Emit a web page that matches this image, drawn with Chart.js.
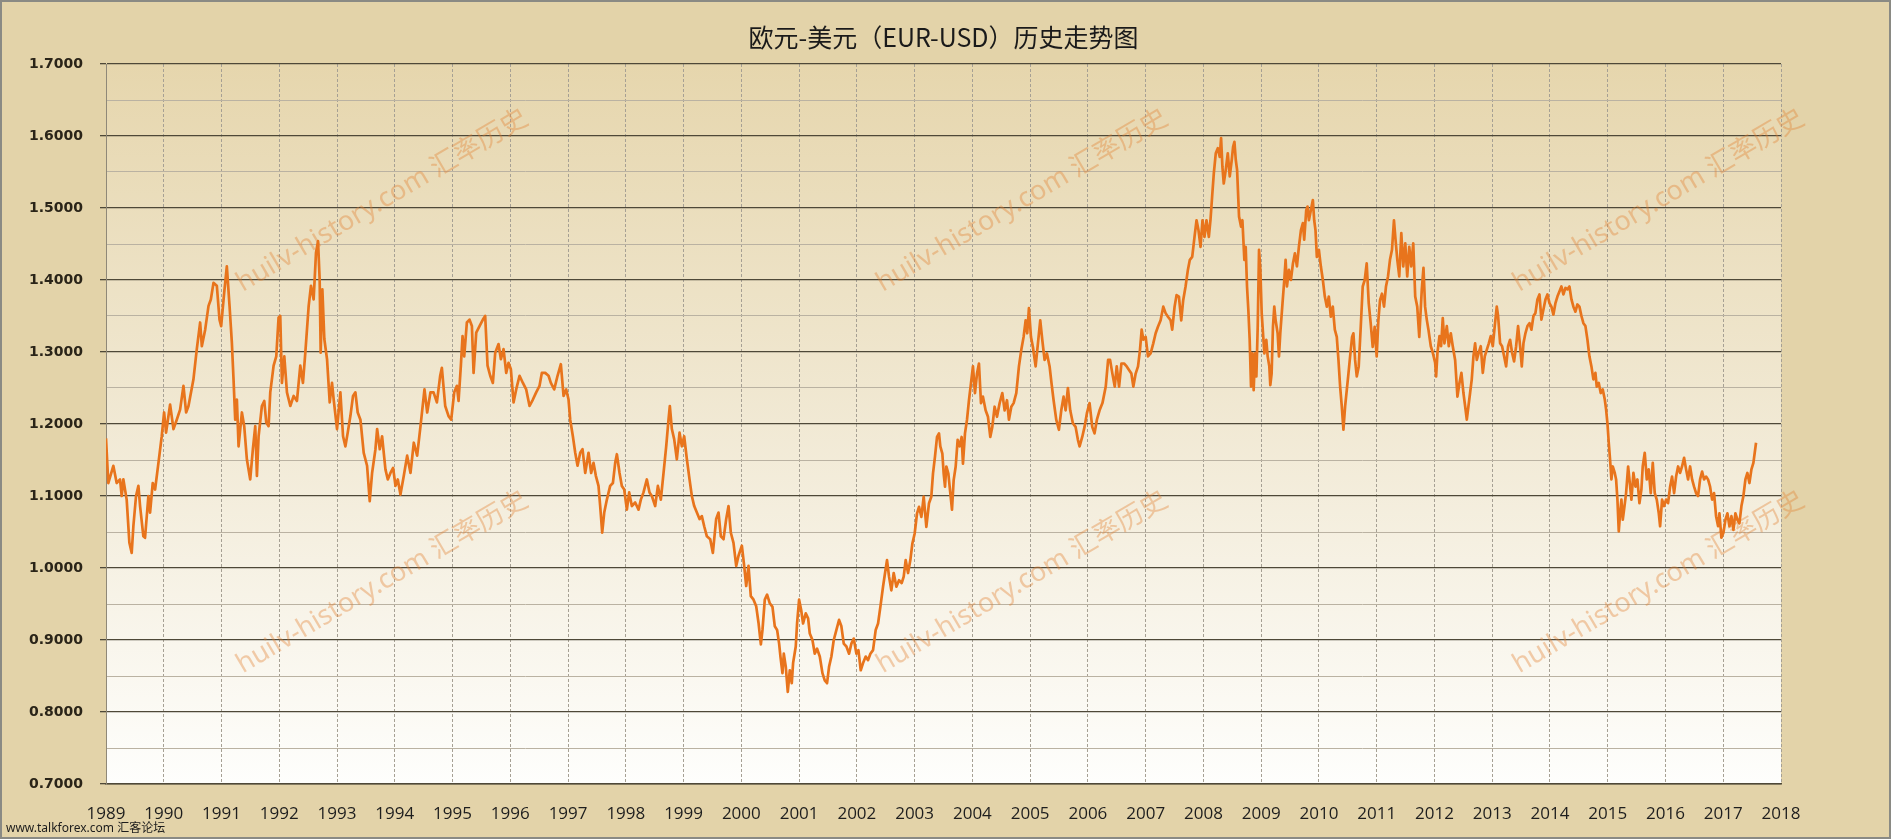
<!DOCTYPE html>
<html>
<head>
<meta charset="utf-8">
<title>欧元-美元（EUR-USD）历史走势图</title>
<script src="https://cdn.jsdelivr.net/npm/chart.js@4.4.1/dist/chart.umd.min.js"></script>
<style>
  html, body { margin: 0; padding: 0; background: #e3d3a9; overflow: hidden; }
  canvas { display: block; }
</style>
</head>
<body>
<canvas id="fxChart" width="1891" height="839"></canvas>
<script>
// 时间（小数年份）与汇率，按年分行，从图上逐段读出
var dates = [
  1989.000,1989.040,1989.127,1989.185,1989.243,1989.272,1989.301,1989.358,1989.405,1989.445,1989.474,1989.520,1989.561,1989.590,1989.647,1989.676,1989.734,1989.763,1989.809,1989.850,1989.908,1989.965,
  1990.006,1990.040,1990.110,1990.168,1990.225,1990.283,1990.341,1990.387,1990.428,1990.514,1990.572,1990.630,1990.659,1990.717,1990.775,1990.815,1990.861,1990.919,1990.965,1990.994,
  1991.046,1991.092,1991.139,1991.179,1991.208,1991.237,1991.266,1991.295,1991.353,1991.393,1991.439,1991.497,1991.543,1991.584,1991.613,1991.642,1991.699,1991.740,1991.775,1991.815,1991.844,1991.902,1991.948,1991.988,
  1992.017,1992.046,1992.087,1992.133,1992.191,1992.249,1992.306,1992.364,1992.410,1992.451,1992.509,1992.549,1992.595,1992.636,1992.671,1992.699,1992.717,1992.746,1992.780,1992.827,1992.873,1992.913,1992.942,
  1993.000,1993.058,1993.104,1993.145,1993.185,1993.231,1993.277,1993.318,1993.358,1993.405,1993.462,1993.520,1993.566,1993.607,1993.665,1993.694,1993.740,1993.780,1993.838,1993.879,1993.925,1993.971,
  1994.012,1994.052,1994.098,1994.156,1994.214,1994.272,1994.329,1994.387,1994.445,1994.514,1994.561,1994.618,1994.671,1994.729,1994.786,1994.815,1994.873,1994.931,1994.977,
  1995.029,1995.075,1995.104,1995.144,1995.173,1995.202,1995.248,1995.294,1995.335,1995.364,1995.410,1995.467,1995.525,1995.565,1995.606,1995.652,1995.698,1995.739,1995.796,1995.837,1995.883,1995.929,1995.969,
  1996.010,1996.056,1996.102,1996.160,1996.218,1996.275,1996.333,1996.391,1996.448,1996.506,1996.546,1996.604,1996.662,1996.702,1996.760,1996.818,1996.875,1996.922,1996.968,
  1997.008,1997.037,1997.083,1997.124,1997.164,1997.210,1997.250,1997.297,1997.354,1997.400,1997.441,1997.481,1997.527,1997.556,1997.591,1997.626,1997.672,1997.729,1997.776,1997.816,1997.845,1997.891,1997.931,1997.972,
  1998.018,1998.058,1998.104,1998.162,1998.220,1998.260,1998.306,1998.364,1998.410,1998.451,1998.508,1998.555,1998.606,1998.653,1998.699,1998.739,1998.762,1998.797,1998.837,1998.883,1998.930,1998.970,
  1999.010,1999.057,1999.103,1999.143,1999.184,1999.230,1999.276,1999.316,1999.357,1999.403,1999.461,1999.507,1999.564,1999.605,1999.645,1999.691,1999.738,1999.778,1999.818,1999.864,1999.911,1999.951,
  2000.009,2000.049,2000.084,2000.124,2000.164,2000.211,2000.257,2000.297,2000.338,2000.366,2000.406,2000.446,2000.493,2000.539,2000.579,2000.619,2000.654,2000.677,2000.712,2000.735,2000.769,2000.804,2000.839,2000.873,2000.896,2000.942,2000.965,
  2001.000,2001.035,2001.069,2001.115,2001.156,2001.185,2001.231,2001.271,2001.311,2001.358,2001.404,2001.444,2001.484,2001.519,2001.559,2001.600,2001.646,2001.692,2001.732,2001.773,2001.819,2001.865,2001.905,2001.946,2001.992,
  2002.027,2002.067,2002.107,2002.153,2002.194,2002.234,2002.280,2002.326,2002.367,2002.407,2002.453,2002.488,2002.522,2002.557,2002.597,2002.638,2002.684,2002.730,2002.776,2002.811,2002.845,2002.886,2002.926,2002.961,
  2003.001,2003.042,2003.076,2003.117,2003.157,2003.203,2003.249,2003.289,2003.318,2003.353,2003.388,2003.422,2003.445,2003.480,2003.503,2003.526,2003.549,2003.584,2003.618,2003.647,2003.676,2003.711,2003.745,2003.780,2003.814,2003.837,2003.872,2003.907,2003.941,2003.982,
  2004.010,2004.045,2004.080,2004.114,2004.149,2004.183,2004.229,2004.270,2004.310,2004.345,2004.385,2004.426,2004.472,2004.518,2004.558,2004.599,2004.633,2004.674,2004.714,2004.760,2004.806,2004.847,2004.887,2004.922,2004.950,2004.979,
  2005.014,2005.048,2005.095,2005.135,2005.175,2005.210,2005.250,2005.291,2005.337,2005.371,2005.406,2005.452,2005.498,2005.539,2005.579,2005.614,2005.654,2005.694,2005.740,2005.787,2005.827,2005.856,2005.902,2005.942,2005.983,
  2006.029,2006.075,2006.115,2006.156,2006.202,2006.252,2006.309,2006.350,2006.384,2006.424,2006.465,2006.499,2006.540,2006.580,2006.626,2006.672,2006.712,2006.753,2006.787,2006.827,2006.868,2006.902,2006.931,2006.960,
  2007.000,2007.040,2007.086,2007.132,2007.173,2007.213,2007.259,2007.305,2007.345,2007.386,2007.432,2007.460,2007.501,2007.535,2007.576,2007.616,2007.650,2007.691,2007.731,2007.765,2007.806,2007.846,2007.881,2007.915,2007.950,2007.984,
  2008.019,2008.053,2008.094,2008.122,2008.151,2008.180,2008.214,2008.249,2008.283,2008.306,2008.329,2008.352,2008.387,2008.422,2008.456,2008.491,2008.514,2008.537,2008.560,2008.583,2008.617,2008.652,2008.675,2008.709,2008.732,2008.755,2008.778,2008.801,2008.824,2008.847,2008.870,2008.894,2008.917,2008.940,2008.963,2008.986,
  2009.009,2009.032,2009.055,2009.089,2009.112,2009.141,2009.158,2009.181,2009.204,2009.227,2009.250,2009.285,2009.308,2009.331,2009.365,2009.400,2009.423,2009.446,2009.481,2009.515,2009.550,2009.584,2009.619,2009.653,2009.688,2009.722,2009.745,2009.780,2009.803,2009.826,2009.860,2009.895,2009.918,2009.941,2009.964,2009.999,
  2010.033,2010.068,2010.102,2010.137,2010.171,2010.206,2010.240,2010.275,2010.309,2010.338,2010.367,2010.396,2010.424,2010.453,2010.482,2010.511,2010.540,2010.574,2010.597,2010.626,2010.655,2010.689,2010.724,2010.758,2010.793,2010.827,2010.862,2010.896,2010.931,2010.965,
  2011.000,2011.029,2011.058,2011.092,2011.127,2011.161,2011.196,2011.230,2011.265,2011.299,2011.322,2011.357,2011.391,2011.426,2011.460,2011.495,2011.529,2011.564,2011.598,2011.633,2011.667,2011.702,2011.737,2011.781,2011.810,2011.838,2011.867,2011.896,2011.937,2011.971,
  2012.012,2012.029,2012.052,2012.087,2012.115,2012.144,2012.173,2012.214,2012.248,2012.283,2012.317,2012.358,2012.398,2012.433,2012.467,2012.502,2012.531,2012.560,2012.589,2012.617,2012.646,2012.675,2012.704,2012.733,2012.767,2012.802,2012.837,2012.871,2012.906,2012.941,2012.975,
  2013.010,2013.044,2013.079,2013.102,2013.137,2013.171,2013.206,2013.241,2013.275,2013.310,2013.344,2013.379,2013.414,2013.448,2013.483,2013.512,2013.541,2013.575,2013.610,2013.645,2013.679,2013.714,2013.748,2013.783,2013.818,2013.852,2013.887,2013.922,2013.956,2013.991,
  2014.025,2014.060,2014.095,2014.129,2014.164,2014.198,2014.233,2014.268,2014.302,2014.337,2014.372,2014.406,2014.441,2014.475,2014.510,2014.545,2014.579,2014.614,2014.649,2014.683,2014.718,2014.752,2014.787,2014.810,2014.845,2014.879,2014.914,2014.949,2014.972,2014.995,
  2015.018,2015.041,2015.064,2015.087,2015.122,2015.145,2015.168,2015.191,2015.214,2015.237,2015.260,2015.283,2015.318,2015.353,2015.376,2015.410,2015.445,2015.480,2015.514,2015.549,2015.583,2015.606,2015.641,2015.676,2015.710,2015.745,2015.780,2015.814,2015.849,2015.884,2015.907,2015.941,2015.976,
  2016.010,2016.045,2016.080,2016.114,2016.149,2016.184,2016.218,2016.253,2016.287,2016.322,2016.357,2016.391,2016.426,2016.461,2016.495,2016.530,2016.564,2016.599,2016.634,2016.668,2016.703,2016.737,2016.772,2016.807,2016.841,2016.876,2016.911,2016.934,2016.968,
  2017.003,2017.038,2017.072,2017.107,2017.142,2017.176,2017.211,2017.246,2017.280,2017.315,2017.349,2017.384,2017.418,2017.453,2017.488,2017.522,2017.545,2017.568
];

var rates = [
  1.180,1.118,1.142,1.118,1.123,1.100,1.123,1.095,1.035,1.021,1.058,1.100,1.114,1.086,1.044,1.042,1.100,1.077,1.118,1.109,1.146,1.183,
  1.216,1.188,1.227,1.193,1.206,1.220,1.253,1.216,1.225,1.262,1.304,1.341,1.308,1.331,1.364,1.373,1.396,1.392,1.345,1.336,
  1.382,1.419,1.364,1.313,1.262,1.206,1.234,1.169,1.216,1.197,1.151,1.123,1.165,1.197,1.128,1.183,1.225,1.232,1.202,1.197,1.244,1.281,1.294,1.348,
  1.350,1.257,1.294,1.244,1.225,1.239,1.232,1.281,1.257,1.299,1.364,1.392,1.373,1.438,1.454,1.401,1.299,1.387,1.318,1.290,1.230,1.257,1.234,
  1.193,1.244,1.183,1.169,1.188,1.211,1.239,1.244,1.216,1.206,1.160,1.142,1.093,1.132,1.165,1.193,1.165,1.183,1.137,1.123,1.132,1.139,
  1.114,1.123,1.102,1.128,1.156,1.132,1.174,1.156,1.197,1.248,1.216,1.244,1.244,1.230,1.267,1.278,1.225,1.211,1.206,
  1.244,1.253,1.232,1.281,1.322,1.294,1.341,1.345,1.336,1.271,1.327,1.336,1.345,1.350,1.281,1.267,1.257,1.299,1.311,1.290,1.304,1.271,1.285,
  1.276,1.230,1.248,1.267,1.257,1.248,1.225,1.234,1.244,1.253,1.271,1.271,1.267,1.257,1.248,1.267,1.283,1.239,1.248,
  1.234,1.206,1.183,1.160,1.142,1.160,1.165,1.132,1.160,1.132,1.146,1.128,1.114,1.086,1.049,1.077,1.095,1.114,1.118,1.146,1.158,1.132,1.114,1.109,
  1.081,1.105,1.086,1.091,1.081,1.095,1.105,1.123,1.105,1.100,1.086,1.114,1.095,1.132,1.169,1.206,1.225,1.193,1.179,1.151,1.188,1.169,
  1.183,1.151,1.123,1.100,1.086,1.077,1.068,1.072,1.058,1.044,1.040,1.021,1.068,1.077,1.044,1.040,1.068,1.086,1.049,1.035,1.003,1.017,
  1.031,1.003,0.975,1.003,0.961,0.956,0.947,0.924,0.894,0.914,0.956,0.963,0.951,0.946,0.919,0.914,0.895,0.877,0.854,0.881,0.863,0.828,0.858,0.840,0.868,0.891,0.923,
  0.956,0.942,0.923,0.937,0.930,0.909,0.900,0.881,0.888,0.877,0.854,0.844,0.840,0.863,0.877,0.900,0.914,0.928,0.919,0.895,0.891,0.881,0.895,0.902,0.881,
  0.886,0.858,0.868,0.877,0.872,0.881,0.886,0.914,0.923,0.946,0.974,0.993,1.011,0.988,0.969,0.993,0.974,0.983,0.979,0.988,1.011,0.993,1.011,1.034,
  1.048,1.076,1.085,1.071,1.099,1.057,1.090,1.099,1.131,1.155,1.182,1.187,1.169,1.159,1.131,1.113,1.141,1.131,1.104,1.081,1.122,1.141,1.178,1.169,1.182,1.145,1.187,1.206,1.233,1.261,
  1.280,1.243,1.270,1.284,1.229,1.238,1.219,1.210,1.182,1.196,1.224,1.210,1.229,1.243,1.219,1.233,1.206,1.224,1.229,1.243,1.280,1.303,1.321,1.344,1.326,1.361,
  1.321,1.307,1.280,1.312,1.344,1.317,1.289,1.298,1.280,1.256,1.233,1.206,1.192,1.219,1.238,1.219,1.250,1.219,1.201,1.196,1.178,1.169,1.182,1.196,1.215,
  1.229,1.196,1.187,1.206,1.219,1.229,1.252,1.289,1.289,1.270,1.252,1.280,1.252,1.284,1.284,1.280,1.275,1.270,1.252,1.270,1.280,1.303,1.331,1.317,
  1.321,1.294,1.298,1.312,1.326,1.335,1.344,1.363,1.354,1.349,1.344,1.331,1.363,1.379,1.377,1.344,1.372,1.391,1.414,1.428,1.432,1.460,1.483,1.469,1.446,1.483,
  1.460,1.483,1.460,1.483,1.516,1.548,1.576,1.583,1.571,1.597,1.557,1.534,1.553,1.576,1.544,1.567,1.585,1.592,1.567,1.553,1.488,1.474,1.483,1.428,1.446,1.391,1.358,1.317,1.252,1.298,1.247,1.298,1.266,1.335,1.442,1.414,
  1.354,1.326,1.298,1.317,1.294,1.280,1.254,1.270,1.335,1.363,1.344,1.326,1.294,1.326,1.363,1.400,1.428,1.391,1.414,1.400,1.423,1.437,1.419,1.446,1.469,1.479,1.456,1.497,1.502,1.483,1.497,1.511,1.483,1.469,1.432,1.442,
  1.419,1.400,1.377,1.363,1.377,1.349,1.363,1.331,1.321,1.289,1.252,1.224,1.192,1.224,1.247,1.270,1.294,1.321,1.326,1.289,1.266,1.280,1.335,1.391,1.400,1.423,1.368,1.340,1.307,1.335,
  1.294,1.344,1.372,1.381,1.363,1.391,1.405,1.428,1.442,1.483,1.460,1.428,1.405,1.465,1.419,1.451,1.405,1.446,1.419,1.451,1.377,1.363,1.321,1.387,1.417,1.363,1.345,1.331,1.308,1.299,
  1.285,1.266,1.299,1.322,1.308,1.347,1.312,1.336,1.308,1.326,1.308,1.289,1.238,1.257,1.271,1.243,1.225,1.206,1.225,1.243,1.262,1.294,1.312,1.289,1.299,1.308,1.271,1.294,1.303,1.312,1.322,
  1.308,1.336,1.363,1.350,1.312,1.308,1.294,1.280,1.308,1.317,1.299,1.287,1.308,1.336,1.308,1.280,1.312,1.326,1.336,1.340,1.331,1.350,1.354,1.373,1.380,1.345,1.359,1.373,1.380,1.368,
  1.363,1.352,1.368,1.377,1.384,1.391,1.380,1.389,1.387,1.391,1.373,1.363,1.356,1.366,1.363,1.350,1.340,1.336,1.317,1.294,1.280,1.262,1.271,1.252,1.257,1.243,1.248,1.234,1.220,1.201,
  1.174,1.150,1.123,1.141,1.132,1.123,1.095,1.051,1.076,1.095,1.067,1.081,1.104,1.141,1.123,1.095,1.132,1.113,1.123,1.090,1.109,1.141,1.160,1.123,1.137,1.104,1.146,1.104,1.095,1.076,1.058,1.095,1.086,
  1.095,1.090,1.113,1.127,1.104,1.127,1.141,1.132,1.141,1.153,1.137,1.123,1.141,1.123,1.113,1.104,1.100,1.123,1.134,1.123,1.127,1.123,1.113,1.095,1.104,1.072,1.058,1.076,1.042,
  1.049,1.067,1.076,1.058,1.072,1.053,1.076,1.067,1.062,1.086,1.100,1.123,1.132,1.118,1.137,1.146,1.160,1.174
];

var yearFirst = 1989;
var yearLast = 2018;
var rateMin = 0.7;
var rateMax = 1.7;

var titleText = '欧元-美元（EUR-USD）历史走势图';
var watermarkText = 'huilv-history.com 汇率历史';
var footerText = 'www.talkforex.com 汇客论坛';

var points = [];
for (var i = 0; i < Math.min(dates.length, rates.length); i++) {
  points.push({ x: dates[i], y: rates[i] });
}

function isMajor(v) {
  return Math.round(v * 100) % 10 === 0;
}

// 背景：外框米色，绘图区上黄下白渐变
var backgroundPlugin = {
  id: 'paperBackground',
  beforeDraw: function(chart) {
    var ctx = chart.ctx;
    var a = chart.chartArea;
    ctx.save();
    ctx.fillStyle = '#e3d3a9';
    ctx.fillRect(0, 0, chart.width, chart.height);
    var g = ctx.createLinearGradient(0, a.top, 0, a.bottom);
    g.addColorStop(0, '#e6d6ad');
    g.addColorStop(0.5, '#f1e9d4');
    g.addColorStop(1, '#fefefc');
    ctx.fillStyle = g;
    ctx.fillRect(a.left, a.top, a.right - a.left, a.bottom - a.top);
    ctx.restore();
  },
  afterDraw: function(chart) {
    var ctx = chart.ctx;
    ctx.save();
    ctx.strokeStyle = '#8a8a84';
    ctx.lineWidth = 2;
    ctx.strokeRect(1, 1, chart.width - 2, chart.height - 2);
    ctx.fillStyle = '#1c1c1c';
    ctx.font = '12px "Noto Sans", "Noto Sans CJK SC", sans-serif';
    ctx.textBaseline = 'middle';
    ctx.fillText(footerText, 6, 829);
    ctx.restore();
  }
};

// 斜向水印
var watermarkPlugin = {
  id: 'watermark',
  beforeDatasetsDraw: function(chart) {
    var ctx = chart.ctx;
    var a = chart.chartArea;
    var cols = [0.165, 0.547, 0.927];
    var rows = [0.19, 0.72];
    ctx.save();
    ctx.font = '27px "Noto Sans", "Noto Sans CJK SC", sans-serif';
    ctx.fillStyle = 'rgba(226, 128, 50, 0.38)';
    ctx.textAlign = 'center';
    ctx.textBaseline = 'middle';
    rows.forEach(function(r) {
      cols.forEach(function(c) {
        ctx.save();
        ctx.translate(a.left + c * (a.right - a.left), a.top + r * (a.bottom - a.top));
        ctx.rotate(-30.5 * Math.PI / 180);
        ctx.fillText(watermarkText, 0, 0);
        ctx.restore();
      });
    });
    ctx.restore();
  }
};

var ctx = document.getElementById('fxChart').getContext('2d');

var fxChart = new Chart(ctx, {
  type: 'line',
  data: {
    datasets: [{
      label: 'EUR-USD',
      data: points,
      borderColor: '#e8741c',
      borderWidth: 2.7,
      borderJoinStyle: 'round',
      pointRadius: 0,
      tension: 0,
      fill: false
    }]
  },
  options: {
    responsive: false,
    animation: false,
    events: [],
    layout: { padding: { top: 0, left: 0, right: 110, bottom: 0 } },
    plugins: {
      legend: { display: false },
      tooltip: { enabled: false },
      title: {
        display: true,
        text: titleText,
        fullSize: false,
        color: '#1a1a1a',
        font: { family: '"Noto Sans CJK SC", "Noto Sans", sans-serif', size: 25, weight: 'normal' },
        padding: { top: 22, bottom: 12 }
      }
    },
    scales: {
      x: {
        type: 'linear',
        min: yearFirst,
        max: yearLast,
        afterFit: function(scale) { scale.height = 55; },
        ticks: {
          stepSize: 1,
          autoSkip: false,
          maxRotation: 0,
          padding: 20,
          color: '#1e1e1e',
          font: { family: '"Open Sans", "Noto Sans", sans-serif', size: 17 },
          callback: function(v) { return String(v); }
        },
        grid: {
          color: '#a6a094',
          lineWidth: 1,
          drawTicks: false
        },
        border: { display: true, color: '#4e4838', width: 1.5, dash: [3, 2] }
      },
      y: {
        min: rateMin,
        max: rateMax,
        afterFit: function(scale) { scale.width = 106; },
        ticks: {
          stepSize: 0.05,
          autoSkip: false,
          padding: 17,
          color: '#2a2418',
          font: { family: '"DejaVu Sans", sans-serif', size: 14, weight: 'bold' },
          callback: function(v) { return isMajor(v) ? v.toFixed(4) : ''; }
        },
        grid: {
          tickLength: 6,
          color: function(c) { return isMajor(c.tick.value) ? '#4e4838' : '#bab2a2'; },
          tickColor: function(c) { return isMajor(c.tick.value) ? '#4e4838' : 'rgba(0,0,0,0)'; },
          lineWidth: function(c) { return isMajor(c.tick.value) ? 1.3 : 1; }
        },
        border: { display: true, color: '#8f8878', width: 1 }
      }
    }
  },
  plugins: [backgroundPlugin, watermarkPlugin]
});
</script>
</body>
</html>
